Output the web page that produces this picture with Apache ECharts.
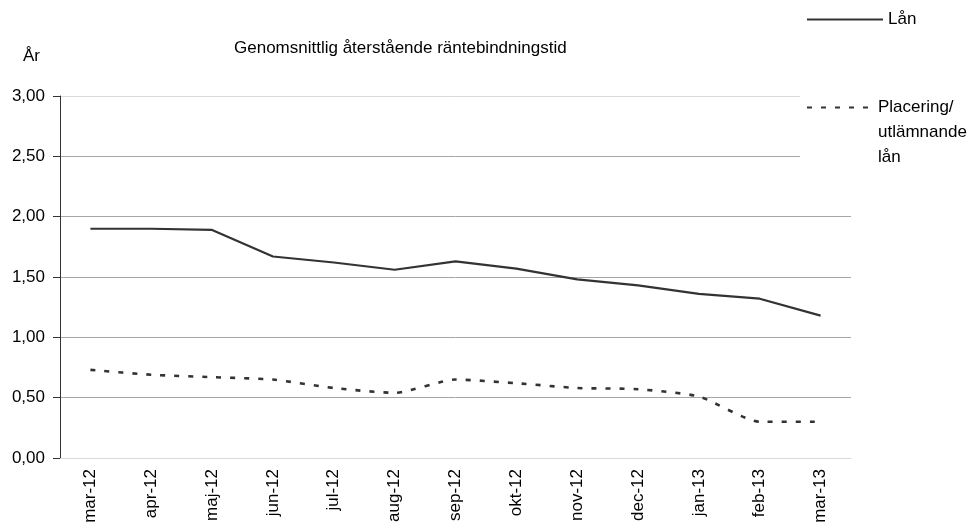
<!DOCTYPE html>
<html>
<head>
<meta charset="utf-8">
<script src="https://cdn.jsdelivr.net/npm/echarts@6/dist/echarts.min.js"></script>
<style>html,body{margin:0;padding:0;background:#fff}#c{width:980px;height:526px}</style>
</head>
<body>
<div id="c"></div>
<script>
const categories = ['mar-12','apr-12','maj-12','jun-12','jul-12','aug-12','sep-12','okt-12','nov-12','dec-12','jan-13','feb-13','mar-13'];
const lan = [1.90, 1.90, 1.89, 1.67, 1.62, 1.56, 1.63, 1.57, 1.48, 1.43, 1.36, 1.32, 1.18];
const placering = [0.73, 0.69, 0.67, 0.65, 0.58, 0.54, 0.65, 0.62, 0.58, 0.57, 0.51, 0.30, 0.30];
const seriesNames = ['Lån', 'Placering/utlämnande lån'];
const titleText = 'Genomsnittlig återstående räntebindningstid';
const yAxisName = 'År';

const FONT = "'Liberation Sans Narrow', 'Arial Narrow', 'Liberation Sans', Arial, sans-serif";
const FS = 17;
const chart = echarts.init(document.getElementById('c'));
chart.setOption({
  animation: false,
  backgroundColor: '#fff',
  textStyle: { fontFamily: FONT, color: '#000' },
  title: {
    text: titleText,
    left: 229, top: 35,
    textStyle: { fontFamily: FONT, fontSize: FS, fontWeight: 'normal', color: '#000' }
  },
  legend: [
    {
      data: [seriesNames[0]],
      left: 806, top: 11, padding: 0,
      itemWidth: 76, itemHeight: 14,
      itemStyle: { opacity: 0 },
      textStyle: { fontFamily: FONT, fontSize: FS, color: '#000' }
    },
    {
      data: [seriesNames[1]],
      left: 800, top: 45, padding: [0, 0, 0, 6],
      backgroundColor: '#fff',
      itemWidth: 66, itemHeight: 14,
      itemStyle: { opacity: 0 },
      formatter: function () { return '\n\nPlacering/\nutlämnande\nlån'; },
      textStyle: { fontFamily: FONT, fontSize: FS, color: '#000', lineHeight: 25 }
    }
  ],
  grid: { left: 60, right: 129, top: 96, bottom: 68, containLabel: false },
  xAxis: {
    type: 'category',
    data: categories,
    boundaryGap: true,
    axisLine: { lineStyle: { color: '#d9d9d9', width: 1 } },
    axisTick: { show: false },
    axisLabel: { rotate: 90, margin: 11, fontSize: FS, color: '#000', fontFamily: FONT },
    splitLine: { show: false }
  },
  yAxis: {
    type: 'value',
    min: 0, max: 3, interval: 0.5,
    name: yAxisName,
    nameLocation: 'end',
    nameGap: 40,
    nameTextStyle: { fontFamily: FONT, fontSize: FS, color: '#000', align: 'right', verticalAlign: 'middle', padding: [0, 20, 0, 0] },
    axisLine: { show: true, lineStyle: { color: '#333', width: 1 } },
    axisTick: { show: true, inside: false, length: 7, lineStyle: { color: '#333' } },
    axisLabel: {
      margin: 15, fontSize: FS, color: '#000', fontFamily: FONT,
      formatter: function (v) { return v.toFixed(2).replace('.', ','); }
    },
    splitLine: { show: true, lineStyle: { color: ['#d9d9d9', '#a6a6a6', '#a6a6a6', '#a6a6a6', '#a6a6a6', '#a6a6a6', '#d9d9d9'], width: 1 } }
  },
  series: [
    {
      name: seriesNames[0], type: 'line', data: lan,
      showSymbol: false, symbol: 'none',
      lineStyle: { color: '#333', width: 2.2, type: 'solid' },
      itemStyle: { color: '#333' }
    },
    {
      name: seriesNames[1], type: 'line', data: placering,
      showSymbol: false, symbol: 'none',
      smooth: 0.2,
      lineStyle: { color: '#333', width: 2.6, type: [5, 9] },
      itemStyle: { color: '#333' }
    }
  ]
});
</script>
</body>
</html>
